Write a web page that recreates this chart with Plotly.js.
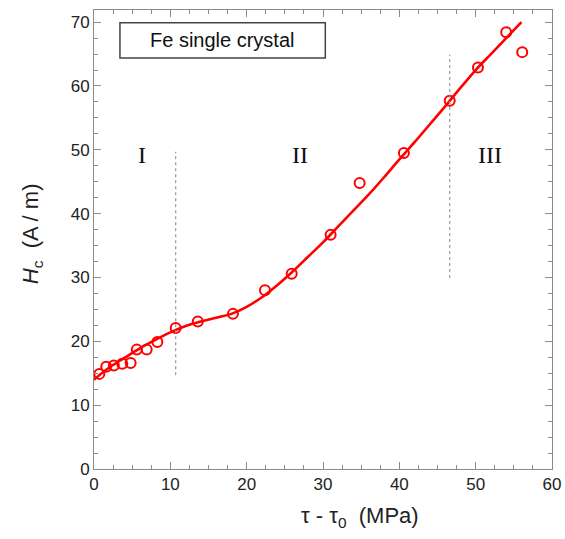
<!DOCTYPE html>
<html>
<head>
<meta charset="utf-8">
<script src="https://cdn.plot.ly/plotly-3.0.1.min.js"></script>
<style>html,body{margin:0;padding:0;background:#fff;}#chart{width:565px;height:539px;}</style>
</head>
<body>
<div id="chart"></div>
<script>
// Measured data points (open circles)
const tauX = [0.7, 1.6, 2.6, 3.7, 4.8, 5.6, 6.9, 8.3, 10.7, 13.6, 18.2, 22.4, 25.9, 31.0, 34.8, 40.6, 46.6, 50.3, 54.0, 56.1];
const hcY  = [14.9, 16.0, 16.2, 16.5, 16.6, 18.7, 18.7, 19.9, 22.1, 23.1, 24.3, 28.0, 30.6, 36.7, 44.8, 49.5, 57.7, 62.9, 68.4, 65.3];

// Fitted curve (red line)
const fitX = [0, 2, 4, 6, 8, 10, 12, 14, 16, 18, 20, 22, 24, 26, 28, 30, 32, 34, 36, 38, 40, 42, 44, 46, 48, 50, 52, 54, 56];
const fitY = [14.0, 15.9, 17.4, 18.9, 20.2, 21.4, 22.4, 23.1, 23.7, 24.3, 25.4, 26.9, 28.8, 30.9, 33.2, 35.5, 38.0, 40.5, 43.0, 45.7, 48.5, 51.2, 54.0, 56.8, 59.7, 62.5, 65.0, 67.5, 70.0];

// Stage boundaries and labels
const stageBoundX = [10.7, 46.6];
const stageBoundY0 = [14.7, 29.9];
const stageBoundY1 = [49.7, 64.9];
const stageLabels = ["I", "II", "III"];
const stageLabelX = [6.3, 27.0, 51.9];
const stageLabelY = [49.2, 49.2, 49.2];

const boxText = "Fe single crystal";

const axisCol = "#8a8a8a";
const textCol = "#222";

const traces = [
  {x: fitX, y: fitY, mode: "lines", type: "scatter", line: {color: "#ff0000", width: 2.6, shape: "spline", smoothing: 1.0}, hoverinfo: "skip"},
  {x: tauX, y: hcY, mode: "markers", type: "scatter", marker: {symbol: "circle-open", size: 10, color: "#ff0000", line: {color: "#ff0000", width: 2}}}
];

const shapes = stageBoundX.map((xv, i) => ({
  type: "line", xref: "x", yref: "y", x0: xv, x1: xv, y0: stageBoundY0[i], y1: stageBoundY1[i],
  line: {color: "#999", width: 1.2, dash: "dot"}
}));
shapes.push({type: "rect", xref: "x", yref: "y", x0: 3.4, x1: 30.3, y0: 64.4, y1: 69.9,
  line: {color: "#444", width: 1.5}, fillcolor: "#fff"});

const annotations = stageLabels.map((t, i) => ({
  x: stageLabelX[i], y: stageLabelY[i], xref: "x", yref: "y", text: t, showarrow: false,
  font: {family: "Liberation Serif, Times New Roman, serif", size: 24, color: "#111"}
}));
annotations.push({x: 16.85, y: 67.15, xref: "x", yref: "y", text: boxText, showarrow: false,
  font: {family: "Liberation Sans, Arial, sans-serif", size: 20, color: "#111"}});
annotations.push({x: 0.581, y: -0.14, xref: "paper", yref: "paper", showarrow: false,
  text: "τ - τ<sub>0</sub>  (MPa)", font: {family: "Liberation Sans, Arial, sans-serif", size: 22, color: textCol}});
annotations.push({x: -0.17, y: 0.512, xref: "paper", yref: "paper", showarrow: false, textangle: -90,
  text: "<i>H</i><sub>c</sub>  (A / m)", font: {family: "Liberation Sans, Arial, sans-serif", size: 22, color: textCol}});

const axisCommon = {
  showgrid: false, zeroline: false, showline: true, linecolor: axisCol, linewidth: 1,
  mirror: "allticks", ticks: "inside", ticklen: 7, tickwidth: 1, tickcolor: axisCol,
  dtick: 10, tick0: 0,
  minor: {dtick: 2.5, ticks: "inside", ticklen: 4, tickwidth: 1, tickcolor: axisCol, showgrid: false},
  tickfont: {family: "Liberation Sans, Arial, sans-serif", size: 17, color: textCol},
  fixedrange: true
};

const layout = {
  width: 565, height: 539,
  margin: {l: 94, r: 13, t: 10, b: 70},
  paper_bgcolor: "#fff", plot_bgcolor: "#fff",
  showlegend: false,
  xaxis: Object.assign({}, axisCommon, {range: [0, 60]}),
  yaxis: Object.assign({}, axisCommon, {range: [0, 71.9]}),
  shapes: shapes,
  annotations: annotations
};

Plotly.newPlot("chart", traces, layout, {displayModeBar: false, staticPlot: true});
</script>
</body>
</html>
